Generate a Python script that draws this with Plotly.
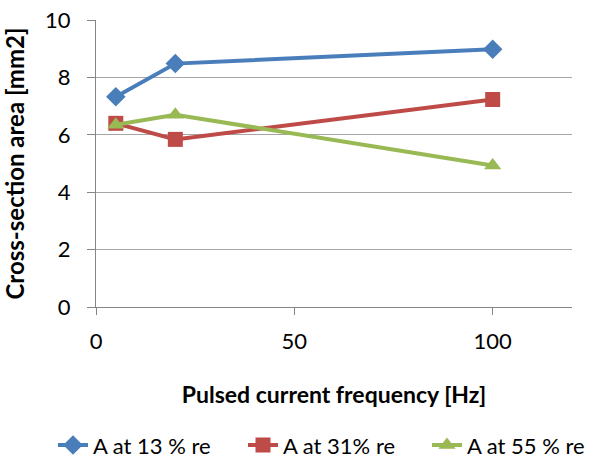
import plotly.graph_objects as go

freq = [5, 20, 100]
a13 = [7.33, 8.48, 8.98]
a31 = [6.40, 5.84, 7.23]
a55 = [6.35, 6.70, 4.93]
names = ["A at 13 % re", "A at 31% re", "A at 55 % re"]
colors = ["#4A7EBB", "#BE4B48", "#98B954"]
symbols = ["diamond", "square", "triangle-up"]
legend_ids = ["legend", "legend2", "legend3"]
legend_x = [53, 243, 427]

fig = go.Figure()
for ys, n, c, s, lg in zip([a13, a31, a55], names, colors, symbols, legend_ids):
    fig.add_trace(go.Scatter(x=freq, y=ys, name=n, mode="lines+markers",
                             line=dict(color=c, width=4), legend=lg,
                             marker=dict(symbol=s, size=15, color=c)))

font = "Lato, Carlito, Calibri, sans-serif"
W, H = 591, 458
legend_common = dict(orientation="h", xref="container", yref="container",
                     xanchor="left", y=0.028, yanchor="middle",
                     font=dict(size=22), bgcolor="rgba(0,0,0,0)")
fig.update_layout(
    width=W, height=H,
    margin=dict(l=96, r=19, t=20, b=151, autoexpand=False),
    paper_bgcolor="white", plot_bgcolor="white",
    font=dict(family=font, size=22, color="black"),
    showlegend=True,
    xaxis=dict(range=[0, 120], tickvals=[0, 50, 100], showgrid=False,
               showline=True, linecolor="#868686", linewidth=1,
               ticks="outside", ticklen=7, tickcolor="#868686",
               ticklabelstandoff=8,
               zeroline=False, automargin=True,
               title=dict(text="<b>Pulsed current frequency [Hz]</b>", standoff=33,
                          font=dict(size=23))),
    yaxis=dict(range=[0, 10], tickvals=[0, 2, 4, 6, 8, 10], showgrid=True,
               gridcolor="#A6A6A6", gridwidth=1,
               showline=True, linecolor="#868686", linewidth=1,
               ticks="outside", ticklen=8, tickcolor="#868686",
               ticklabelstandoff=12,
               zeroline=False, automargin=True,
               title=dict(text="<b>Cross-section area [mm2]</b>", standoff=14,
                          font=dict(size=24))),
)
for lg, lx in zip(legend_ids, legend_x):
    fig.update_layout({lg: dict(legend_common, x=lx / W)})
fig.write_html("out.html")
